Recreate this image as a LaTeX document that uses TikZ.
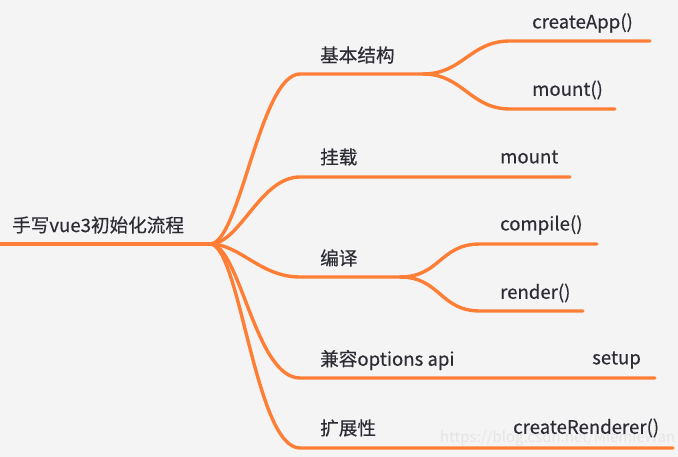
\documentclass[tikz,border=0pt]{standalone}
\usepackage{fontspec}
\setmainfont{Noto Sans CJK SC}[FakeBold=0.35]
\newfontfamily\wmfont{Noto Sans CJK SC}
\definecolor{bgc}{HTML}{F4F4F4}
\definecolor{brc}{HTML}{FF7E36}
\definecolor{txc}{HTML}{2C2C34}
\tikzset{
  branch/.style={draw=brc, line width=3.4pt, line cap=round},
  lbl/.style={anchor=west, inner sep=0pt, text=txc, font=\fontsize{18.6}{21}\selectfont},
  wm/.style={anchor=west, inner sep=0pt, text=black!10, font=\wmfont\fontsize{15}{18}\selectfont}
}
\begin{document}
\begin{tikzpicture}[x=1pt,y=-1pt]
\fill[bgc] (0,0) rectangle (678,457);
\useasboundingbox (0,0) rectangle (678,457);
% junctions and ends
\coordinate (r0) at (0,244);
\coordinate (J) at (210,244);
\coordinate (b1) at (300,74);  \coordinate (J1) at (423,74);
\coordinate (c1a) at (510,41); \coordinate (e1a) at (650,41);
\coordinate (c1b) at (510,109); \coordinate (e1b) at (615,109);
\coordinate (b2) at (300,177); \coordinate (e2) at (570,177);
\coordinate (b3) at (300,277); \coordinate (J3) at (400,277);
\coordinate (c3a) at (480,244); \coordinate (e3a) at (597,244);
\coordinate (c3b) at (480,311); \coordinate (e3b) at (583,311);
\coordinate (b4) at (300,378); \coordinate (e4) at (655,378);
\coordinate (b5) at (300,448); \coordinate (e5) at (673,448);
% connectors
\draw[branch] (r0) -- (J);
\draw[branch] (J) .. controls +(30,0) and +(-40,0) .. (b1) -- (J1);
\draw[branch] (J1) .. controls +(40,0) and +(-40,0) .. (c1a) -- (e1a);
\draw[branch] (J1) .. controls +(40,0) and +(-40,0) .. (c1b) -- (e1b);
\draw[branch] (J) .. controls +(30,0) and +(-40,0) .. (b2) -- (e2);
\draw[branch] (J) .. controls +(30,0) and +(-40,0) .. (b3) -- (J3);
\draw[branch] (J3) .. controls +(40,0) and +(-40,0) .. (c3a) -- (e3a);
\draw[branch] (J3) .. controls +(40,0) and +(-40,0) .. (c3b) -- (e3b);
\draw[branch] (J) .. controls +(30,0) and +(-45,0) .. (b4) -- (e4);
\draw[branch] (J) .. controls +(30,0) and +(-45,0) .. (b5) -- (e5);
% labels
\node[lbl] (root) at (12,225) {手写vue3初始化流程};
\node[lbl] (n1) at (320,55) {基本结构};
\node[lbl] (n1a) at (532,23) {createApp()};
\node[lbl] (n1b) at (532,90) {mount()};
\node[lbl] (n2) at (320,157) {挂载};
\node[lbl] (n2a) at (500,157) {mount};
\node[lbl] (n3) at (320,258) {编译};
\node[lbl] (n3a) at (500,225) {compile()};
\node[lbl] (n3b) at (500,293) {render()};
\node[lbl] (n4) at (320,360) {兼容options api};
\node[lbl] (n4a) at (592,360) {setup};
\node[lbl] (n5) at (320,428) {扩展性};
\node[wm] (wmk) at (440,438) {https://blog.csdn.net/MiemieWan};
\node[lbl] (n5a) at (513,428) {createRenderer()};
\end{tikzpicture}
\end{document}
